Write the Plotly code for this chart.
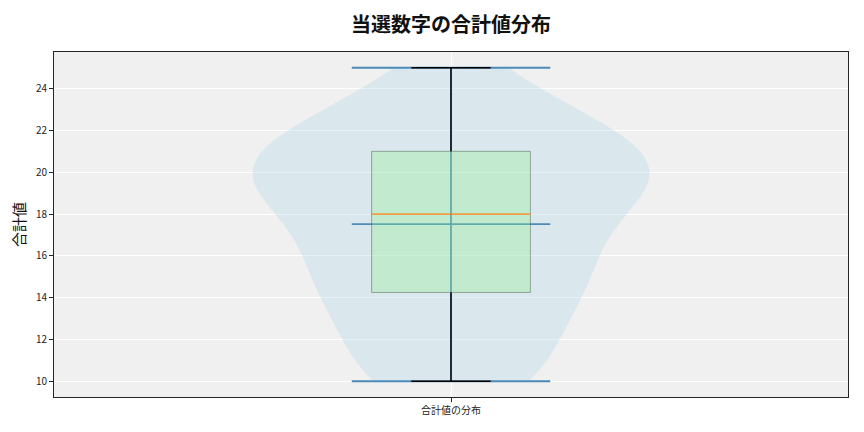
import numpy as np
import plotly.graph_objects as go

sums = [10, 10, 10, 10, 11, 11, 12, 12, 13, 13,
        14, 14, 14, 15, 15, 15, 15, 16, 16, 16,
        17, 17, 18, 18, 18, 18, 19, 19, 19, 19,
        20, 20, 20, 20, 20, 20, 21, 21, 21, 21,
        21, 22, 22, 22, 22, 23, 23, 24, 24, 25]
category = "合計値の分布"
y_ticks = [10, 12, 14, 16, 18, 20, 22, 24]

data = np.array(sums, dtype=float)
pos = 1.0
n = len(data)
bw = data.std(ddof=1) * n ** (-1 / 5)  # Scott's rule
vmin, vmax, vmean = data.min(), data.max(), data.mean()
q1, med, q3 = np.percentile(data, [25, 50, 75])
iqr = q3 - q1
lo_w = data[data >= q1 - 1.5 * iqr].min()
hi_w = data[data <= q3 + 1.5 * iqr].max()

C0 = "#4a8bb8"
FONT = "Noto Sans CJK JP"

fig = go.Figure()

# violin body
fig.add_trace(go.Violin(
    x0=pos, y=data, width=0.5, spanmode="hard", bandwidth=bw,
    points=False, box_visible=False, meanline_visible=False,
    fillcolor="rgba(173,216,230,0.33)", line=dict(width=0, color="rgba(0,0,0,0)"),
    hoverinfo="skip", showlegend=False, scalemode="width", orientation="v",
))

def hline(y, half, color, width):
    fig.add_trace(go.Scatter(x=[pos - half, pos + half], y=[y, y], mode="lines",
                             line=dict(color=color, width=width),
                             hoverinfo="skip", showlegend=False))

# violin center bar, extrema and mean
fig.add_trace(go.Scatter(x=[pos, pos], y=[vmin, vmax], mode="lines",
                         line=dict(color=C0, width=1.8), hoverinfo="skip", showlegend=False))
hline(vmin, 0.125, C0, 1.9)
hline(vmax, 0.125, C0, 1.9)
hline(vmean, 0.125, C0, 1.9)

# box
bx = [pos - 0.1, pos + 0.1, pos + 0.1, pos - 0.1, pos - 0.1]
by = [q1, q1, q3, q3, q1]
fig.add_trace(go.Scatter(x=bx, y=by, mode="lines", fill="toself",
                         fillcolor="rgba(144,238,144,0.32)",
                         line=dict(color="rgba(60,80,60,0.45)", width=1),
                         hoverinfo="skip", showlegend=False))
# whiskers
fig.add_trace(go.Scatter(x=[pos, pos], y=[q3, hi_w], mode="lines",
                         line=dict(color="black", width=1.4), hoverinfo="skip", showlegend=False))
fig.add_trace(go.Scatter(x=[pos, pos], y=[q1, lo_w], mode="lines",
                         line=dict(color="black", width=1.4), hoverinfo="skip", showlegend=False))
hline(hi_w, 0.05, "black", 1.5)
hline(lo_w, 0.05, "black", 1.5)
# median
hline(med, 0.1, "#ff7f0e", 1.2)

fig.update_layout(
    width=848, height=416,
    margin=dict(l=46, r=7, t=44, b=24),
    paper_bgcolor="white", plot_bgcolor="#f0f0f0",
    title=dict(text="当選数字の合計値分布", x=0.5, xref="paper", xanchor="center",
               y=1 - 17 / 416, yanchor="middle",
               font=dict(family=FONT, size=20, color="#111", weight=600)),
    font=dict(family=FONT, size=10, color="#222"),
    showlegend=False,
)
fig.update_xaxes(type="linear", range=[pos - 0.5, pos + 0.5], tickvals=[pos], ticktext=[category],
                 showgrid=True, gridcolor="white", gridwidth=1, zeroline=False,
                 showline=True, mirror=True, linecolor="#262626", linewidth=1,
                 ticks="outside", ticklen=4, tickcolor="#262626",
                 tickfont=dict(family=FONT, size=10, color="#222"))
fig.update_yaxes(range=[9.25, 25.75], tickvals=y_ticks,
                 showgrid=True, gridcolor="white", gridwidth=1, zeroline=False,
                 showline=True, mirror=True, linecolor="#262626", linewidth=1,
                 ticks="outside", ticklen=4, tickcolor="#262626",
                 tickfont=dict(family=FONT, size=10, color="#222"),
                 title=dict(text="合計値", font=dict(family=FONT, size=15, color="#111"), standoff=10))

fig.write_html("out.html")
